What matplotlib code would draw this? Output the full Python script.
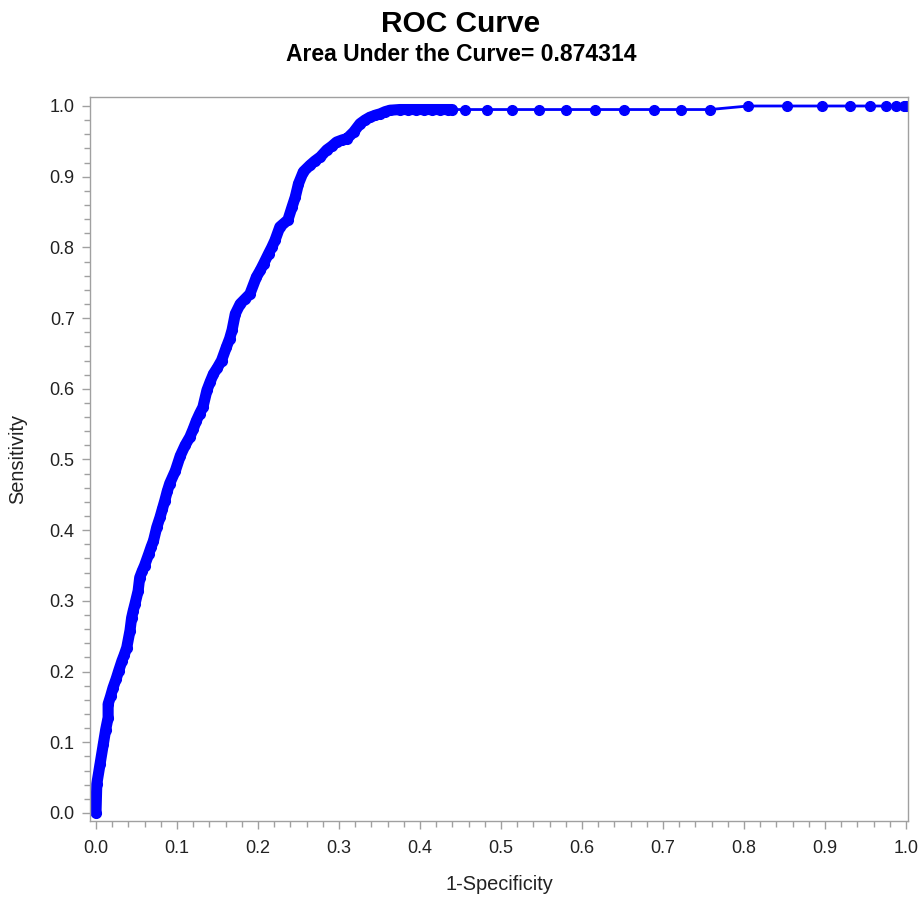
import matplotlib
matplotlib.use("Agg")
import matplotlib.pyplot as plt
from matplotlib.ticker import MultipleLocator

plt.rcParams['font.family'] = ['Liberation Sans', 'DejaVu Sans']

# ROC points (1-specificity, sensitivity)
fpr = [0.000, 0.001, 0.005, 0.009, 0.012, 0.015, 0.015, 0.018, 0.021, 0.025,
       0.028, 0.032, 0.035, 0.038, 0.042, 0.044, 0.046, 0.048, 0.052, 0.054,
       0.057, 0.060, 0.065, 0.068, 0.071, 0.075, 0.079, 0.082, 0.085, 0.088,
       0.091, 0.098, 0.104, 0.110, 0.116, 0.120, 0.124, 0.128, 0.132, 0.137,
       0.141, 0.145, 0.150, 0.155, 0.161, 0.165, 0.168, 0.172, 0.178, 0.184,
       0.190, 0.198, 0.203, 0.207, 0.213, 0.217, 0.221, 0.227, 0.237, 0.242,
       0.246, 0.250, 0.256, 0.264, 0.270, 0.277, 0.285, 0.291, 0.297, 0.304,
       0.310, 0.318, 0.326, 0.332, 0.338, 0.345, 0.351, 0.357, 0.363, 0.375,
       0.385, 0.395, 0.405, 0.415, 0.425, 0.435, 0.440,
       0.456, 0.483, 0.513, 0.547, 0.580, 0.616, 0.652, 0.689, 0.722, 0.758,
       0.805, 0.853, 0.896, 0.931, 0.955, 0.975, 0.988, 0.998, 1.000]
tpr = [0.000, 0.041, 0.069, 0.097, 0.118, 0.135, 0.154, 0.165, 0.177, 0.190,
       0.201, 0.215, 0.224, 0.234, 0.258, 0.276, 0.286, 0.295, 0.314, 0.333,
       0.342, 0.350, 0.366, 0.376, 0.385, 0.404, 0.418, 0.430, 0.442, 0.455,
       0.466, 0.484, 0.505, 0.520, 0.532, 0.543, 0.555, 0.565, 0.574, 0.598,
       0.610, 0.621, 0.630, 0.640, 0.659, 0.671, 0.683, 0.706, 0.720, 0.727,
       0.734, 0.758, 0.768, 0.777, 0.791, 0.800, 0.810, 0.829, 0.839, 0.857,
       0.871, 0.890, 0.907, 0.916, 0.922, 0.928, 0.938, 0.943, 0.949, 0.952,
       0.954, 0.963, 0.975, 0.980, 0.984, 0.987, 0.989, 0.992, 0.994, 0.995,
       0.995, 0.995, 0.995, 0.995, 0.995, 0.995, 0.995,
       0.995, 0.995, 0.995, 0.995, 0.995, 0.995, 0.995, 0.995, 0.995, 0.995,
       1.000, 1.000, 1.000, 1.000, 1.000, 1.000, 1.000, 1.000, 1.000]

auc_text = "Area Under the Curve= 0.874314"
dense_end = 87  # points up to here overlap into a thick band

fig = plt.figure(figsize=(9.22, 9.0), dpi=100)
ax = fig.add_axes([0.0976, 0.0878, 0.8872, 0.8044])

blue = '#0000ff'
ax.plot(fpr[:dense_end], tpr[:dense_end], color=blue, lw=8,
        solid_capstyle='round', solid_joinstyle='round')
ax.plot(fpr, tpr, color=blue, lw=2, marker='o', ms=7, mec=blue, mfc=blue)

ax.set_xlim(-0.0074, 1.0025)
ax.set_ylim(-0.0113, 1.0127)
ax.xaxis.set_major_locator(MultipleLocator(0.1))
ax.xaxis.set_minor_locator(MultipleLocator(0.02))
ax.yaxis.set_major_locator(MultipleLocator(0.1))
ax.yaxis.set_minor_locator(MultipleLocator(0.02))
ax.xaxis.set_major_formatter(plt.FuncFormatter(lambda v, p: f"{v:.1f}"))
ax.yaxis.set_major_formatter(plt.FuncFormatter(lambda v, p: f"{v:.1f}"))

gray = '#a0a0a0'
for s in ax.spines.values():
    s.set_color(gray)
    s.set_linewidth(1)
ax.tick_params(which='major', length=6, width=1, color=gray,
               labelsize=13, labelcolor='#222222')
ax.tick_params(axis='x', which='major', pad=8)
ax.tick_params(axis='y', which='major', pad=5)
ax.tick_params(which='minor', length=4, width=1, color=gray)

ax.set_xlabel("1-Specificity", fontsize=14.4, color='#222222', labelpad=13)
ax.set_ylabel("Sensitivity", fontsize=14.4, color='#222222', labelpad=16)

fig.text(0.5, 0.973, "ROC Curve", ha='center', va='center',
         fontsize=21.5, fontweight='bold')
fig.text(0.5, 0.939, auc_text, ha='center', va='center',
         fontsize=16.5, fontweight='bold')

fig.savefig("out.png", dpi=100)
